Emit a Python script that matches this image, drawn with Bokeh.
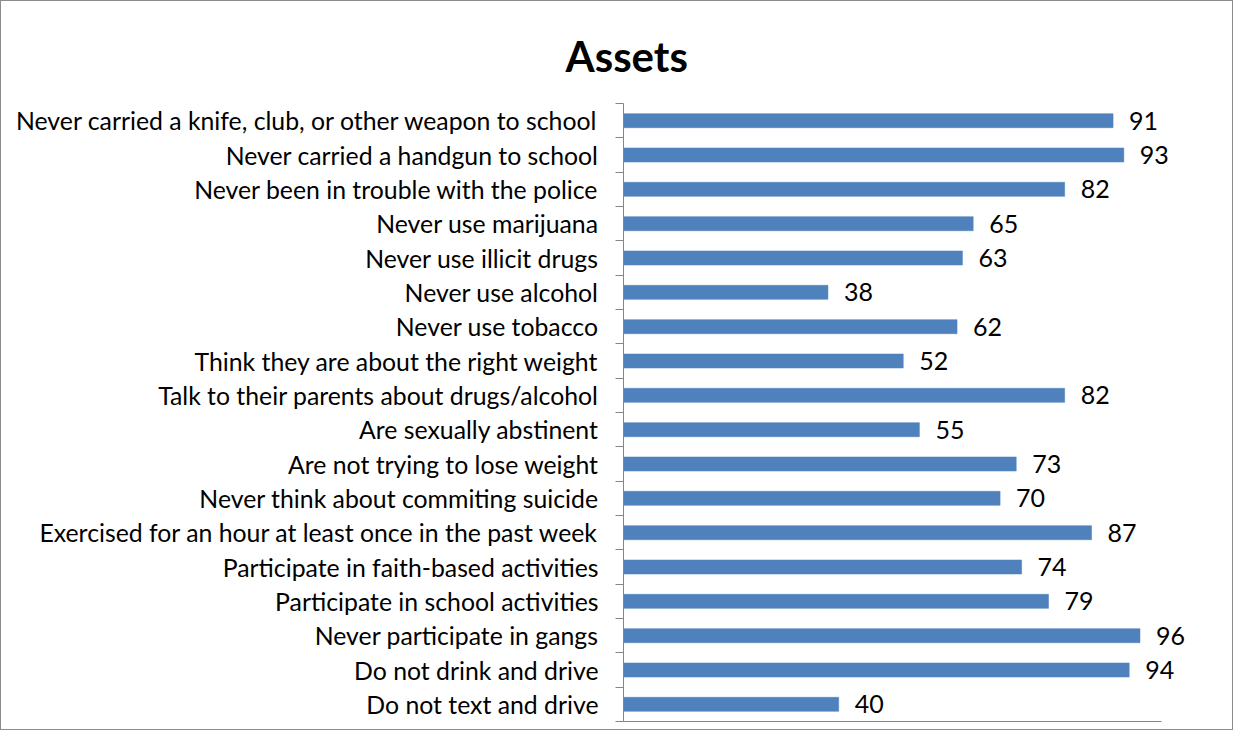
from bokeh.plotting import figure
from bokeh.models import Range1d, FixedTicker, ColumnDataSource, LabelSet, Title
from bokeh.core.properties import value
from bokeh.embed import file_html
from bokeh.resources import INLINE

categories = [
    "Never carried a knife, club, or other weapon to school",
    "Never carried a handgun to school",
    "Never been in trouble with the police",
    "Never use marijuana",
    "Never use illicit drugs",
    "Never use alcohol",
    "Never use tobacco",
    "Think they are about the right weight",
    "Talk to their parents about drugs/alcohol",
    "Are sexually abstinent",
    "Are not trying to lose weight",
    "Never think about commiting suicide",
    "Exercised for an hour at least once in the past week",
    "Participate in faith-based activities",
    "Participate in school activities",
    "Never participate in gangs",
    "Do not drink and drive",
    "Do not text and drive",
]
values = [91, 93, 82, 65, 63, 38, 62, 52, 82, 55, 73, 70, 87, 74, 79, 96, 94, 40]
title_text = "Assets"

n = len(categories)
ypos = [n - 1 - i + 0.5 for i in range(n)]
labels_str = [str(v) for v in values]

FONT = "Lato"
W, H = 1233, 730
FRAME_L, FRAME_T, FRAME_B = 623, 103, 721
PX_PER_UNIT = (1161 - 623) / 100.0
x_end = (W - FRAME_L) / PX_PER_UNIT

p = figure(width=W, height=H, output_backend="svg", toolbar_location=None,
           x_range=Range1d(0, x_end), y_range=Range1d(0, n),
           min_border_left=FRAME_L, min_border_right=0, min_border_top=FRAME_T,
           min_border_bottom=H - FRAME_B, tools="")
p.styles = {"box-shadow": "inset 0 0 0 1px #8c8c8c", "background-color": "white"}
p.grid.visible = False
p.outline_line_color = None
p.background_fill_color = "white"
p.background_fill_alpha = 0
p.border_fill_alpha = 0

src = ColumnDataSource(dict(y=ypos, v=values, lab=labels_str))
p.hbar(y="y", right="v", left=0, height=0.41, source=src,
       fill_color="#4F81BD", line_color="#4F81BD", line_width=0.5)

p.add_layout(LabelSet(x="v", y="y", text="lab", source=src, x_offset=16,
                      text_font=value(FONT), text_font_size="25px", text_color="black",
                      text_align="left", text_baseline="middle"))

# y axis
ya = p.yaxis[0]
ya.ticker = FixedTicker(ticks=ypos, minor_ticks=list(range(n + 1)))
ya.major_label_overrides = {float(y): c for y, c in zip(ypos, categories)}
ya.major_tick_line_color = None
ya.major_tick_out = 0
ya.major_tick_in = 0
ya.minor_tick_out = 8
ya.minor_tick_in = 0
ya.minor_tick_line_color = "#868686"
ya.axis_line_color = "#868686"
ya.axis_line_width = 1
ya.major_label_standoff = 17
ya.major_label_text_font = FONT
ya.major_label_text_font_size = "24.8px"
ya.major_label_text_color = "black"

# x axis
xa = p.xaxis[0]
xa.ticker = FixedTicker(ticks=[])
xa.bounds = (0, 100)
xa.major_tick_line_color = None
xa.minor_tick_line_color = None
xa.major_tick_out = 0
xa.major_tick_in = 0
xa.major_label_standoff = 0
xa.major_label_text_font_size = "0px"
xa.axis_line_color = "#868686"
xa.axis_line_width = 1

p.title = Title(text=title_text, align="left", offset=565 - FRAME_L,
                text_font=FONT, text_font_size="42px", text_font_style="bold",
                text_color="black", standoff=45, text_line_height=0.7)

open("out.html", "w").write(file_html(p, INLINE))
